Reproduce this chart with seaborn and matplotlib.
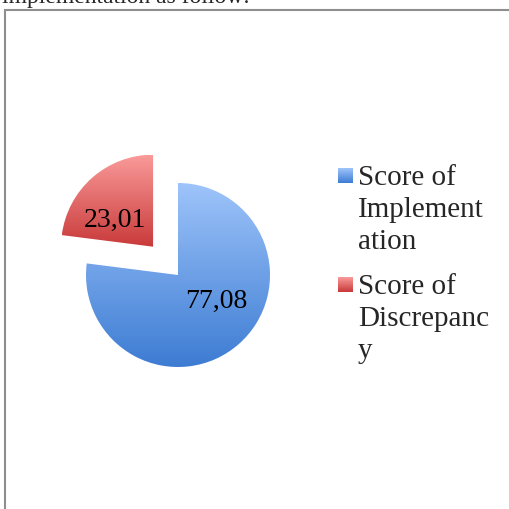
import numpy as np
import matplotlib
matplotlib.use("Agg")
import matplotlib.pyplot as plt
import seaborn as sns
from matplotlib.colors import LinearSegmentedColormap
from matplotlib.patches import Rectangle

# data
labels = ["Score of\nImplement\nation", "Score of\nDiscrepanc\ny"]
values = [77.08, 23.01]
value_text = ["77,08", "23,01"]
explode = [0, 0.41]
top_colors = ["#9ec4fa", "#f99a99"]
bottom_colors = ["#3d7cd3", "#c93a3a"]

sns.set_style("white")
plt.rcParams['font.family'] = ['Liberation Serif', 'DejaVu Serif']

W, H = 510, 509
fig = plt.figure(figsize=(W / 100, H / 100), dpi=100)
fig.patch.set_facecolor("white")

# pie axes: center at (178, 275) px, radius 92 px
cx, cy, r_px, half = 178, 275, 92, 150
ax = fig.add_axes([(cx - half) / W, (H - cy - half) / H, 2 * half / W, 2 * half / H])
lim = half / r_px

wedges, _ = ax.pie(values, explode=explode, startangle=90, counterclock=False,
                   colors=bottom_colors, wedgeprops={'linewidth': 0})

# gradient fill, one per wedge
def gradient_cmap(c0, c1):
    return LinearSegmentedColormap.from_list("g", [c0, c1])

for w, c0, c1 in zip(wedges, top_colors, bottom_colors):
    ext = w.get_path().get_extents()
    grad = np.linspace(0, 1, 256)[:, None]
    im = ax.imshow(grad, cmap=gradient_cmap(c0, c1),
                   extent=[ext.x0, ext.x1, ext.y0, ext.y1],
                   origin='upper', aspect='auto', zorder=w.get_zorder(),
                   interpolation='bilinear')
    im.set_clip_path(w)
    w.set_facecolor('none')

# value labels (excel puts them a bit counter-clockwise of the middle)
for w, txt in zip(wedges, value_text):
    ang = np.deg2rad((w.theta1 + w.theta2) / 2 + 14)
    x = w.center[0] + 0.5 * np.cos(ang)
    y = w.center[1] + 0.5 * np.sin(ang)
    ax.text(x, y, txt, ha='center', va='center', fontsize=20, color='black', zorder=5)

ax.set_xlim(-lim, lim)
ax.set_ylim(-lim, lim)
ax.set_aspect('equal')
ax.axis('off')

# legend, drawn by hand so the key box sits on the first line
fs = 21
line_h = 32
baseline = 185
for lab, c0, c1 in zip(labels, top_colors, bottom_colors):
    key = fig.add_axes([338 / W, 1 - (baseline - 2) / H, 15 / W, 15 / H])
    key.imshow(np.linspace(0, 1, 64)[:, None], cmap=gradient_cmap(c0, c1),
               aspect='auto', interpolation='bilinear')
    key.axis('off')
    for j, part in enumerate(lab.split("\n")):
        fig.text(358 / W, 1 - (baseline + j * line_h) / H, part, fontsize=fs,
                 va='baseline', ha='left')
    baseline += 109

# chart frame and text above it
fig.add_artist(Rectangle((5.5 / W, -0.1), 1.2, 1.1 - 9.5 / H, transform=fig.transFigure,
                         fill=False, edgecolor='#8e8e8e', linewidth=1.5))
fig.text(2 / W, 1 - 3 / H, "implementation as follow:", fontsize=17, va='baseline', ha='left')

fig.savefig("out.png", dpi=100)
